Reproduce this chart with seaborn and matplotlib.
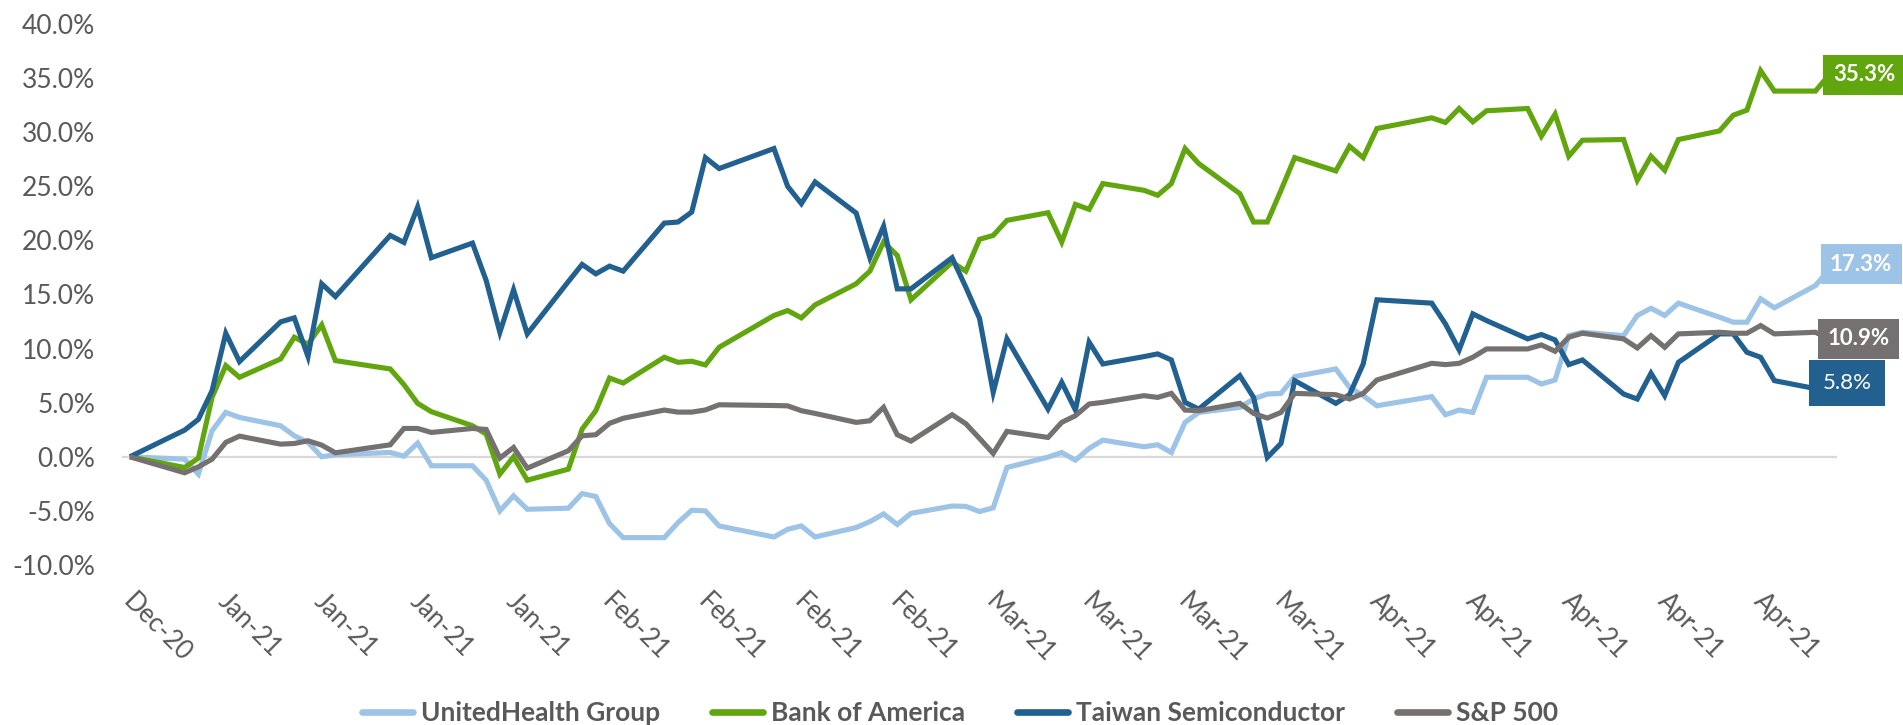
import matplotlib
matplotlib.use("Agg")
import matplotlib.pyplot as plt
import matplotlib.dates as mdates
from matplotlib.lines import Line2D
import numpy as np
import pandas as pd
import seaborn as sns

# ---------------- data ----------------
dates = [
    "2020-12-31",
    "2021-01-04", "2021-01-05", "2021-01-06", "2021-01-07", "2021-01-08",
    "2021-01-11", "2021-01-12", "2021-01-13", "2021-01-14", "2021-01-15",
    "2021-01-19", "2021-01-20", "2021-01-21", "2021-01-22",
    "2021-01-25", "2021-01-26", "2021-01-27", "2021-01-28", "2021-01-29",
    "2021-02-01", "2021-02-02", "2021-02-03", "2021-02-04", "2021-02-05",
    "2021-02-08", "2021-02-09", "2021-02-10", "2021-02-11", "2021-02-12",
    "2021-02-16", "2021-02-17", "2021-02-18", "2021-02-19",
    "2021-02-22", "2021-02-23", "2021-02-24", "2021-02-25", "2021-02-26",
    "2021-03-01", "2021-03-02", "2021-03-03", "2021-03-04", "2021-03-05",
    "2021-03-08", "2021-03-09", "2021-03-10", "2021-03-11", "2021-03-12",
    "2021-03-15", "2021-03-16", "2021-03-17", "2021-03-18", "2021-03-19",
    "2021-03-22", "2021-03-23", "2021-03-24", "2021-03-25", "2021-03-26",
    "2021-03-29", "2021-03-30", "2021-03-31", "2021-04-01",
    "2021-04-05", "2021-04-06", "2021-04-07", "2021-04-08", "2021-04-09",
    "2021-04-12", "2021-04-13", "2021-04-14", "2021-04-15", "2021-04-16",
    "2021-04-19", "2021-04-20", "2021-04-21", "2021-04-22", "2021-04-23",
    "2021-04-26", "2021-04-27", "2021-04-28", "2021-04-29", "2021-04-30",
    "2021-05-03", "2021-05-04",
]

unitedhealth = [
    0.0,
    -0.22, -1.60, 2.41, 4.10, 3.64,
    2.87, 1.94, 1.33, 0.00, 0.19,
    0.40, 0.06, 1.27, -0.83,
    -0.83, -2.16, -5.00, -3.61, -4.85,
    -4.75, -3.40, -3.67, -6.17, -7.47,
    -7.47, -6.08, -4.94, -5.00, -6.39,
    -7.41, -6.70, -6.39, -7.41,
    -6.54, -5.99, -5.28, -6.26, -5.23,
    -4.55, -4.58, -5.06, -4.72, -0.99,
    -0.03, 0.40, -0.31, 0.78, 1.54,
    0.93, 1.11, 0.40, 3.18, 4.10,
    4.57, 5.34, 5.80, 5.86, 7.41,
    8.12, 6.42, 5.65, 4.72,
    5.56, 3.89, 4.32, 4.10, 7.35,
    7.35, 6.73, 7.10, 11.20, 11.51,
    11.20, 13.06, 13.73, 13.06, 14.20,
    12.90, 12.44, 12.44, 14.60, 13.77,
    15.83, 17.30,
]

bank_of_america = [
    0.0,
    -0.99, -0.12, 5.50, 8.43, 7.35,
    9.04, 11.05, 10.40, 12.19, 8.89,
    8.12, 6.67, 4.94, 4.17,
    2.87, 2.10, -1.60, 0.00, -2.16,
    -1.14, 2.56, 4.26, 7.28, 6.82,
    9.20, 8.73, 8.83, 8.49, 10.12,
    13.06, 13.52, 12.84, 14.04,
    15.99, 17.16, 19.85, 18.61, 14.51,
    17.99, 17.16, 20.10, 20.46, 21.85,
    22.56, 19.85, 23.33, 22.87, 25.25,
    24.63, 24.17, 25.25, 28.49, 27.10,
    24.32, 21.70, 21.70, 24.63, 27.65,
    26.42, 28.70, 27.65, 30.34,
    31.33, 30.90, 32.19, 30.96, 31.98,
    32.19, 29.63, 31.67, 27.78, 29.26,
    29.32, 25.56, 27.78, 26.48, 29.32,
    30.12, 31.57, 32.04, 35.68, 33.80,
    33.80, 35.30,
]

taiwan_semi = [
    0.0,
    2.47, 3.46, 6.11, 11.42, 8.80,
    12.47, 12.84, 9.26, 15.99, 14.81,
    20.46, 19.81, 23.09, 18.40,
    19.75, 16.30, 11.51, 15.43, 11.36,
    16.20, 17.78, 16.91, 17.62, 17.16,
    21.60, 21.70, 22.62, 27.65, 26.64,
    28.49, 25.00, 23.40, 25.40,
    22.53, 18.40, 21.30, 15.52, 15.52,
    18.40, 15.68, 12.80, 5.96, 10.90,
    4.41, 6.88, 4.32, 10.59, 8.58,
    9.26, 9.51, 8.95, 5.03, 4.41,
    7.50, 5.49, -0.06, 1.23, 7.04,
    4.94, 5.74, 8.58, 14.51,
    14.20, 12.28, 9.88, 13.21, 12.59,
    10.90, 11.30, 10.80, 8.52, 8.95,
    5.80, 5.34, 7.72, 5.65, 8.73,
    11.36, 11.36, 9.66, 9.20, 7.04,
    6.30, 5.80,
]

sp500 = [
    0.0,
    -1.48, -0.93, -0.22, 1.33, 1.91,
    1.17, 1.23, 1.48, 1.08, 0.37,
    1.11, 2.62, 2.62, 2.25,
    2.62, 2.53, -0.12, 0.86, -1.05,
    0.56, 1.94, 2.04, 3.09, 3.56,
    4.32, 4.13, 4.13, 4.33, 4.81,
    4.74, 4.71, 4.26, 4.01,
    3.18, 3.33, 4.57, 2.04, 1.45,
    3.89, 3.06, 1.70, 0.31, 2.35,
    1.79, 3.18, 3.80, 4.88, 5.03,
    5.65, 5.49, 5.86, 4.32, 4.26,
    4.94, 4.01, 3.58, 4.10, 5.86,
    5.74, 5.34, 5.86, 7.10,
    8.64, 8.52, 8.64, 9.20, 9.97,
    9.97, 10.34, 9.75, 11.05, 11.42,
    10.90, 10.06, 11.20, 10.12, 11.36,
    11.51, 11.42, 11.42, 12.13, 11.36,
    11.51, 10.90,
]

series_names = ["UnitedHealth Group", "Bank of America", "Taiwan Semiconductor", "S&P 500"]
end_labels = ["17.3%", "35.3%", "5.8%", "10.9%"]

tick_dates = [
    "2020-12-31", "2021-01-07", "2021-01-14", "2021-01-21", "2021-01-28",
    "2021-02-04", "2021-02-11", "2021-02-18", "2021-02-25",
    "2021-03-04", "2021-03-11", "2021-03-18", "2021-03-25",
    "2021-04-01", "2021-04-08", "2021-04-15", "2021-04-22", "2021-04-29",
]
tick_labels = [
    "Dec-20", "Jan-21", "Jan-21", "Jan-21", "Jan-21",
    "Feb-21", "Feb-21", "Feb-21", "Feb-21",
    "Mar-21", "Mar-21", "Mar-21", "Mar-21",
    "Apr-21", "Apr-21", "Apr-21", "Apr-21", "Apr-21",
]
y_ticks = [-10, -5, 0, 5, 10, 15, 20, 25, 30, 35, 40]

# ---------------- style ----------------
colors = ["#9DC3E6", "#62A60F", "#22608F", "#767171"]
text_gray = "#595959"
axis_gray = "#D9D9D9"

sns.set_theme(style="white")
plt.rcParams["font.family"] = ["Lato", "DejaVu Sans"]

wide = pd.DataFrame({
    "date": pd.to_datetime(dates),
    series_names[0]: unitedhealth,
    series_names[1]: bank_of_america,
    series_names[2]: taiwan_semi,
    series_names[3]: sp500,
})
long = wide.melt(id_vars="date", var_name="series", value_name="value")
long["x"] = mdates.date2num(long["date"])

W, H = 1903, 725
fig = plt.figure(figsize=(W / 100, H / 100), dpi=100)
fig.patch.set_facecolor("white")
ax = fig.add_axes([123 / W, 1 - 565 / H, (1836 - 123) / W, (565 - 24) / H])
ax.set_facecolor("white")

sns.lineplot(data=long, x="x", y="value", hue="series", hue_order=series_names,
             palette=colors, linewidth=3.7, ax=ax, legend=False,
             estimator=None, sort=False)
for ln in ax.get_lines():
    ln.set_solid_joinstyle("miter")
    ln.set_solid_capstyle("butt")

x_first = mdates.date2num(pd.Timestamp(dates[0]))
x_last = mdates.date2num(pd.Timestamp(dates[-1]))
ax.set_xlim(x_first - 0.5, x_last + 0.5)
ax.set_ylim(-10, 40)
ax.set_xlabel("")
ax.set_ylabel("")

# y axis
ax.set_yticks(y_ticks)
ax.set_yticklabels([f"{v:.1f}%" for v in y_ticks])
ax.tick_params(axis="y", length=0, pad=20, labelsize=19, labelcolor=text_gray)
ax.grid(False)

for s in ["top", "right", "left"]:
    ax.spines[s].set_visible(False)
ax.spines["bottom"].set_position(("data", 0))
ax.spines["bottom"].set_color(axis_gray)
ax.spines["bottom"].set_linewidth(1.6)
ax.spines["bottom"].set_zorder(0.5)

tick_pos = mdates.date2num(pd.to_datetime(tick_dates)) - 0.5
ax.set_xticks(tick_pos)
ax.tick_params(axis="x", length=7, width=1.6, color=axis_gray, direction="out",
               labelbottom=False)

sec = ax.secondary_xaxis(0)
sec.set_xticks(tick_pos + 0.9)
sec.set_xticklabels(tick_labels)
sec.tick_params(axis="x", length=0, pad=17, labelsize=18.5, labelcolor=text_gray)
sec.spines["bottom"].set_visible(False)
for lab in sec.get_xticklabels():
    lab.set_rotation(-45)
    lab.set_ha("left")
    lab.set_va("top")
    lab.set_rotation_mode("anchor")

# end labels
label_offsets = [(23, 4), (25, 0), (13, 8), (21, 0)]  # points
label_weights = ["bold", "bold", "normal", "bold"]
label_pads = [0.42, 0.42, 0.6, 0.42]
series_values = [unitedhealth, bank_of_america, taiwan_semi, sp500]
for vals, txt, col, off, wt, pd_ in zip(series_values, end_labels, colors,
                                         label_offsets, label_weights, label_pads):
    ax.annotate(txt, xy=(x_last, vals[-1]), xytext=off, textcoords="offset points",
                ha="center", va="center", color="white", fontsize=16, fontweight=wt,
                annotation_clip=False, zorder=10,
                bbox=dict(boxstyle=f"square,pad={pd_}", fc=col, ec="none"))

# legend
handles = [Line2D([0], [0], color=c, lw=4.8, solid_capstyle="round") for c in colors]
leg = fig.legend(handles, series_names, loc="center", ncol=4,
                 bbox_to_anchor=(960 / W, 1 - 713 / H), frameon=False,
                 handlelength=1.95, handletextpad=0.3, columnspacing=1.95,
                 prop={"weight": "bold", "size": 19})
for t in leg.get_texts():
    t.set_color(text_gray)

fig.savefig("out.png", dpi=100, facecolor="white")
